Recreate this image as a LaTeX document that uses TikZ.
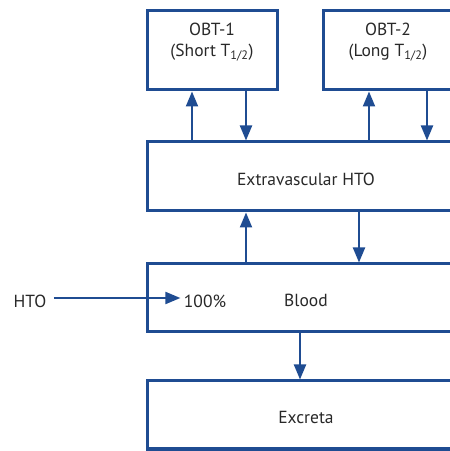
\documentclass[tikz,border=0pt]{standalone}
\usepackage{fontspec}
\setmainfont{PT Sans}
\usetikzlibrary{arrows.meta}
\begin{document}
\begin{tikzpicture}[x=1pt, y=1pt,
    every node/.style={font=\fontsize{17.5}{21}\selectfont, text=txt},
    box/.style={draw=edge, line width=3pt, inner sep=0pt, align=center, text height=18pt},
    flow/.style={draw=edge, line width=2pt, -{Triangle[length=15pt, width=12pt]}}]
        \definecolor{edge}{RGB}{31,76,146}
        \definecolor{txt}{RGB}{40,40,40}
        \useasboundingbox (0,0) rectangle (450,451);
        \clip (0,0) rectangle (450,451);
        % compartments
        \node[box, minimum width=130, minimum height=79, text height=16pt] (obtA) at (212,400.5) {OBT-1\\(Short T\textsubscript{1/2})};
        \node[box, minimum width=130, minimum height=79, text height=16pt] (obtB) at (388,400.5) {OBT-2\\(Long T\textsubscript{1/2})};
        \node[box, minimum width=318, minimum height=69] (extra) at (306,274.5) {Extravascular HTO};
        \node[box, minimum width=318, minimum height=68] (blood) at (306,153) {Blood};
        \node[box, minimum width=318, minimum height=68] (excreta) at (306,36) {Excreta};
        % intake
        \node (pct) at (205,150) {100\%};
        \node (hto) at (30,150) {HTO};
        % transfers
        \draw[flow] (extra.north -| 192,0) -- (obtA.south -| 192,0);
        \draw[flow] (obtA.south -| 246,0) -- (extra.north -| 246,0);
        \draw[flow] (extra.north -| 369,0) -- (obtB.south -| 369,0);
        \draw[flow] (obtB.south -| 427,0) -- (extra.north -| 427,0);
        \draw[flow] (blood.north -| 246,0) -- (extra.south -| 246,0);
        \draw[flow] (extra.south -| 359,0) -- (blood.north -| 359,0);
        \draw[flow] (blood.south -| 300,0) -- (excreta.north -| 300,0);
        \draw[flow] (hto.east) ++(4,3) -- ([yshift=3]pct.west);
      \end{tikzpicture}
\end{document}
